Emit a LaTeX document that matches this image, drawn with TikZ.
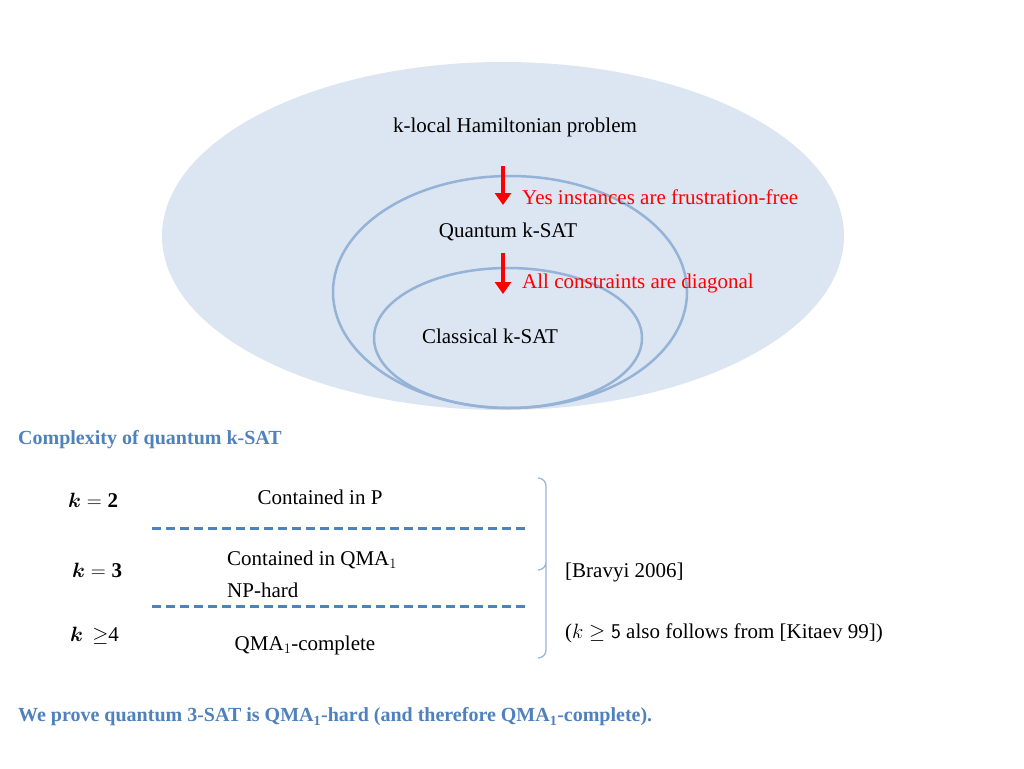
\documentclass[tikz,border=0pt]{standalone}
\usepackage{amsmath,amssymb}
\usepackage{fontspec}
\setmainfont{Liberation Serif}
\usepackage{tikz}
\usetikzlibrary{arrows.meta, positioning}
\definecolor{colorFill}{RGB}{220,230,242}
\definecolor{colorEdge}{RGB}{149,179,215}
\definecolor{colorTitle}{RGB}{79,129,189}
\definecolor{colorDash}{RGB}{79,129,189}
\tikzset{
  txt/.style={inner sep=0pt, font=\fontsize{21}{24}\selectfont},
  note/.style={txt, text=red, anchor=west},
  title/.style={txt, text=colorTitle, font=\fontsize{20}{24}\selectfont\bfseries, anchor=west},
  down/.style={-{Triangle[length=12pt,width=16pt]}, red, line width=4pt},
  sep/.style={colorDash, line width=3pt, dash pattern=on 9pt off 5pt},
}
\begin{document}
\begin{tikzpicture}[x=1pt, y=-1pt]
\useasboundingbox (0,0) rectangle (1024,768);
% nested problem classes
\fill[colorFill] (503,236) ellipse [x radius=341, y radius=174];
\draw[colorEdge, line width=2.5pt] (510,292) ellipse [x radius=177, y radius=116];
\draw[colorEdge, line width=2.5pt] (508,338) ellipse [x radius=134, y radius=70];
\node[txt] (klh) at (515,127) {k-local Hamiltonian problem};
\node[txt] (qsat) at (508,232) {Quantum k-SAT};
\node[txt] (csat) at (490,336) {Classical k-SAT};
\coordinate (a1s) at (503,166);
\coordinate (a1e) at (503,205);
\coordinate (a2s) at (503,253);
\coordinate (a2e) at (503,294);
\draw[down] (a1s) -- (a1e);
\draw[down] (a2s) -- (a2e);
\node[note] (ff) at (522,197) {Yes instances are frustration-free};
\node[note] (diag) at (522,283) {All constraints are diagonal};
% complexity table
\node[title] (cplx) at (18,440) {Complexity of quantum k-SAT};
\node[txt, anchor=west] (k2) at (68,500) {$\boldsymbol{k}=\mathbf{2}$};
\node[txt, anchor=west] (k3) at (72,570) {$\boldsymbol{k}=\mathbf{3}$};
\node[txt, anchor=west] (k4) at (70,636) {$\boldsymbol{k}\,\geq$4};
\node[txt] (inp) at (320,497) {Contained in P};
\node[txt, anchor=west] (inqma) at (227,560) {Contained in QMA$_1$};
\node[txt, anchor=west] (nph) at (227,590) {NP-hard};
\node[txt] (qmac) at (305,645) {QMA$_1$-complete};
\coordinate (d1l) at (152,528);
\coordinate (d1r) at (528,528);
\coordinate (d2l) at (152,606);
\coordinate (d2r) at (528,606);
\draw[sep] (d1l) -- (d1r);
\draw[sep] (d2l) -- (d2r);
\coordinate (bt) at (538,478);
\coordinate (bm) at (538,570);
\coordinate (bb) at (538,658);
\draw[colorEdge, line width=1.2pt] (bt) to[out=0, in=90] (546,486) -- (546,562)
  to[out=-90, in=0] (bm) (546,562) -- (546,578) -- (546,650) to[out=-90, in=0] (bb);
\node[txt, anchor=west] (bravyi) at (565,572) {[Bravyi 2006]};
\node[txt, anchor=west] (kitaev) at (565,633) {($k\geq\mathsf{5}$ also follows from [Kitaev 99])};
\node[title] (result) at (18,717) {We prove quantum 3-SAT is QMA$_\mathbf{1}$-hard (and therefore QMA$_\mathbf{1}$-complete).};
\end{tikzpicture}
\end{document}
